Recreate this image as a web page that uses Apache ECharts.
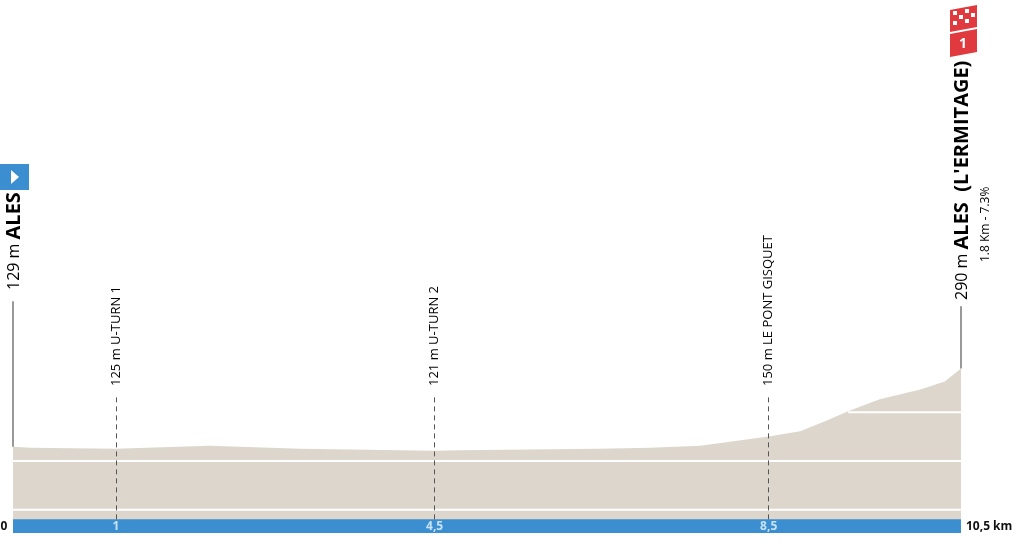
<!DOCTYPE html>
<html>
<head>
<meta charset="UTF-8">
<style>
  html, body { margin: 0; padding: 0; background: #fff; }
  #main { width: 1024px; height: 555px; }
</style>
</head>
<body>
<div id="main"></div>
<script src="https://cdn.jsdelivr.net/npm/echarts@6/dist/echarts.min.js"></script>
<script>
// profile: [km, altitude m]
var profile = [
  [0, 129], [0.19, 127], [1.14, 125], [2.18, 131], [3.18, 125], [4.29, 122],
  [4.67, 121], [4.95, 122], [6.5, 125], [7.06, 127], [7.61, 131], [8.37, 150],
  [8.72, 161], [9.0, 182], [9.25, 202], [9.6, 227], [10.05, 247], [10.32, 263], [10.5, 290]
];
// intermediate points: km on the drawing, altitude, name, km label
var pointKm = [1.14, 4.67, 8.37];
var pointAlt = ['125 m', '121 m', '150 m'];
var pointName = ['U-TURN 1', 'U-TURN 2', 'LE PONT GISQUET'];
var pointTick = ['1', '4,5', '8,5'];
var startLabel = ['129 m', 'ALES'];
var finishLabel = ['290 m', 'ALES  (L\'ERMITAGE)', '1.8 Km - 7.3%'];
var totalKm = 10.5;

var myChart = echarts.init(document.getElementById('main'));
var font = '"Open Sans", "Noto Sans", sans-serif';

var option = {
  animation: false,
  grid: { left: 13, right: 63, top: 0, bottom: 22 },
  xAxis: { type: 'value', min: 0, max: totalKm, show: false },
  yAxis: { type: 'value', min: -48, max: 1047, show: false, splitLine: { show: false } },
  series: [
    {
      type: 'line', data: profile, symbol: 'none',
      lineStyle: { width: 0 },
      areaStyle: { color: '#dcd6cd', opacity: 1, origin: 'start' },
      markLine: {
        silent: true, symbol: 'none', label: { show: false },
        data: pointKm.map(function (k) {
          return [{ coord: [k, -20], lineStyle: { color: '#555', type: [5, 4], width: 1 } }, { coord: [k, 234] }];
        }).concat([
          [{ coord: [0, 129], lineStyle: { color: '#777', type: 'solid', width: 1.5 } }, { coord: [0, 428] }],
          [{ coord: [totalKm, 290], lineStyle: { color: '#777', type: 'solid', width: 1.5 } }, { coord: [totalKm, 418] }]
        ])
      }
    },
    // white level lines under the profile
    { type: 'line', data: [[0, 0], [totalKm, 0]], symbol: 'none', lineStyle: { color: '#fff', width: 2 } },
    { type: 'line', data: [[0, 100], [totalKm, 100]], symbol: 'none', lineStyle: { color: '#fff', width: 2 } },
    { type: 'line', data: [[9.25, 200], [totalKm, 200]], symbol: 'none', lineStyle: { color: '#fff', width: 2 } },
    // blue distance band
    {
      type: 'line', data: [[0, -20], [totalKm, -20]], symbol: 'none',
      lineStyle: { width: 0 }, areaStyle: { color: '#3b8fd1', opacity: 1, origin: 'start' }, z: 3
    },
    {
      type: 'scatter', symbolSize: 0, z: 4,
      data: pointKm.map(function (k, i) { return { value: [k, -34], label: { formatter: pointTick[i] } }; }),
      label: { show: true, position: 'inside', color: '#e8f6ff', fontSize: 12, fontWeight: 'bold', fontFamily: font }
    }
  ]
};
myChart.setOption(option);

function px(k, m) { return myChart.convertToPixel({ gridIndex: 0 }, [k, m]); }
function vtext(p, rich, text) {
  return {
    type: 'text', x: p[0], y: p[1], rotation: Math.PI / 2,
    style: { text: text, rich: rich, textAlign: 'left', textVerticalAlign: 'middle', fontFamily: font }
  };
}
var rich = {
  m: { fontSize: 13, color: '#222', fontFamily: font },
  n: { fontSize: 16, color: '#222', fontFamily: font },
  b: { fontSize: 20, color: '#111', fontWeight: 'bold', fontFamily: font },
  s: { fontSize: 12, color: '#333', fontFamily: font }
};
var g = [];
pointKm.forEach(function (k, i) {
  var p = px(k, 254); p[1] = 386;
  g.push(vtext(p, rich, '{m|' + pointAlt[i] + ' ' + pointName[i] + '}'));
});
g.push(vtext([14, 290], rich, '{n|' + startLabel[0] + ' }{b|' + startLabel[1] + '}'));
g.push(vtext([962, 300], rich, '{n|' + finishLabel[0] + ' }{b|' + finishLabel[1] + '}'));
g.push(vtext([986, 262], rich, '{s|' + finishLabel[2] + '}'));
// start flag
g.push({ type: 'polygon', shape: { points: [[0, 164], [29, 164], [29, 190], [0, 190]] }, style: { fill: '#3b8fd1' } });
g.push({ type: 'polygon', shape: { points: [[11, 170], [19, 177], [11, 184]] }, style: { fill: '#fff' } });
// finish icon
g.push({ type: 'polygon', shape: { points: [[950, 10], [977, 5], [977, 27], [950, 32]] }, style: { fill: '#e0393e' } });
for (var r = 0; r < 3; r++) for (var c = 0; c < 4; c++) if ((r + c) % 2 === 0)
  g.push({ type: 'rect', shape: { x: 953 + c * 6, y: 11 + r * 5 - c * 1, width: 4, height: 4 }, style: { fill: '#fff' } });
g.push({ type: 'polygon', shape: { points: [[950, 34], [977, 29], [977, 52], [950, 57]] }, style: { fill: '#e0393e' } });
g.push({ type: 'text', x: 963, y: 44, style: { text: '1', fill: '#fff', fontSize: 14, fontWeight: 'bold', textAlign: 'center', textVerticalAlign: 'middle', fontFamily: font } });
// axis end labels
g.push({ type: 'text', x: 4, y: 527, style: { text: '0', fill: '#111', fontSize: 12, fontWeight: 'bold', textAlign: 'center', textVerticalAlign: 'middle', fontFamily: font } });
g.push({ type: 'text', x: 966, y: 527, style: { text: '10,5 km', fill: '#111', fontSize: 12, fontWeight: 'bold', textAlign: 'left', textVerticalAlign: 'middle', fontFamily: font } });
myChart.setOption({ graphic: g });
</script>
</body>
</html>
